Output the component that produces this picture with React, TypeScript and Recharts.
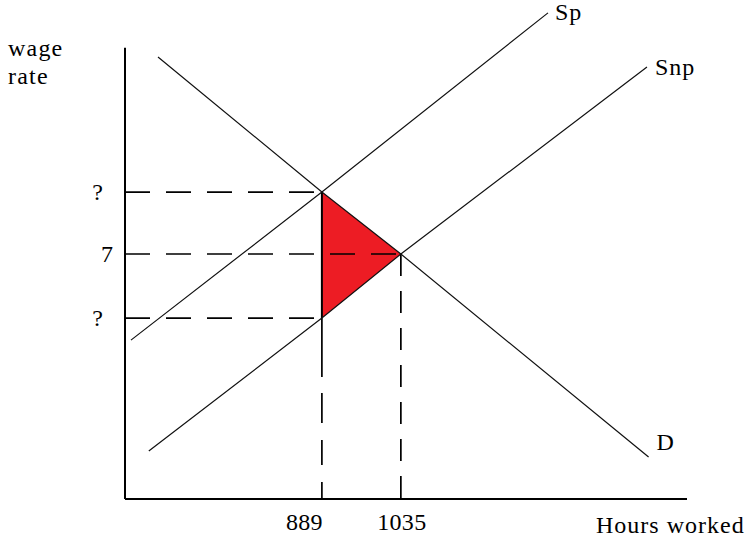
import React from 'react';
import { ComposedChart, Line, Area, XAxis, YAxis, ReferenceLine } from 'recharts';

// ---- data ----
const demandHours = [586, 889, 1035, 1493];
const demandWage = [12.63, 8.77, 7, 1.2];
const privateSupplyHours = [536, 889, 1307];
const privateSupplyWage = [4.54, 8.77, 13.89];
const nonPrivateSupplyHours = [569, 889, 1035, 1490];
const nonPrivateSupplyWage = [1.37, 5.17, 7, 12.34];

const curveNames = ['D', 'Sp', 'Snp'];

const triangleHours = [889, 1035];
const triangleLow = [5.17, 7];
const triangleHigh = [8.77, 7];

const xTicks = [889, 1035];
const xTickLabels = ['889', '1035'];
const yTicks = [5.17, 7, 8.77];
const yTickLabels = ['?', '7', '?'];
const guideHours = [889, 1035, 889]; // where each horizontal guide meets a curve

const xDomain = [525, 1564];
const yDomain = [0, 14];
const yAxisTop = 12.89;

const axisTitleY = ['wage', 'rate'];
const axisTitleX = 'Hours worked';

// ---- helpers ----
const FONT = "'Liberation Serif', 'Times New Roman', serif";
const toPoints = (xs: number[], ys: number[]) => xs.map((x, i) => ({ x, y: ys[i] }));

const demandData = toPoints(demandHours, demandWage);
const spData = toPoints(privateSupplyHours, privateSupplyWage);
const snpData = toPoints(nonPrivateSupplyHours, nonPrivateSupplyWage);
const triangleData = triangleHours.map((x, i) => ({ x, range: [triangleLow[i], triangleHigh[i]] }));

const endLabel = (text: string, count: number, dx: number, dy: number) => (props: any) => {
  if (props.index !== count - 1) return null;
  return (
    <text
      key={text}
      x={props.x + dx}
      y={props.y + dy}
      fontFamily={FONT}
      fontSize={24}
      letterSpacing={1}
      fill="#000"
      textAnchor="start"
    >
      {text}
    </text>
  );
};

const XTick = (props: any) => {
  const { x, y, payload } = props;
  const i = xTicks.indexOf(payload.value);
  return (
    <text
      x={x + 1}
      y={y}
      dy="0.71em"
      textAnchor={i === 0 ? 'end' : 'middle'}
      fontFamily={FONT}
      fontSize={24}
      letterSpacing={0.3}
      fill="#000"
    >
      {xTickLabels[i]}
    </text>
  );
};

const YTick = (props: any) => {
  const { x, y, payload } = props;
  const i = yTicks.indexOf(payload.value);
  return (
    <text
      x={yTickLabels[i] === '?' ? x - 10 : x}
      y={y}
      dy="0.35em"
      textAnchor="end"
      fontFamily={FONT}
      fontSize={24}
      fill="#000"
    >
      {yTickLabels[i]}
    </text>
  );
};

export default function App() {
  return (
    <div style={{ position: 'absolute', left: 0, top: 0, width: 747, height: 539, background: '#fff' }}>
      <ComposedChart
        width={747}
        height={539}
        margin={{ top: 9, right: 60, bottom: 0, left: 65 }}
      >
        <XAxis
          dataKey="x"
          type="number"
          domain={xDomain}
          ticks={xTicks}
          axisLine={{ stroke: '#000', strokeWidth: 2 }}
          tickLine={false}
          tickSize={0}
          tickMargin={14}
          height={40}
          tick={<XTick />}
          allowDataOverflow
        />
        <YAxis
          type="number"
          domain={yDomain}
          ticks={yTicks}
          axisLine={false}
          tickLine={false}
          tickSize={0}
          tickMargin={12}
          width={60}
          tick={<YTick />}
          allowDataOverflow={false}
        />
        <Area
          data={triangleData}
          dataKey="range"
          type="linear"
          stroke="none"
          fill="#ED1C24"
          fillOpacity={1}
          isAnimationActive={false}
        />
        {/* y axis line (shorter than plot area) */}
        <ReferenceLine
          segment={[{ x: xDomain[0], y: 0 }, { x: xDomain[0], y: yAxisTop }]}
          stroke="#000"
          strokeWidth={2}
        />
        {/* horizontal dashed guides */}
        {yTicks.map((v, i) => (
          <ReferenceLine
            key={'h' + i}
            segment={[{ x: xDomain[0], y: v }, { x: guideHours[i], y: v }]}
            stroke="#000"
            strokeWidth={1.7}
            strokeDasharray="25 16"
          />
        ))}
        {/* vertical dashed guides */}
        <ReferenceLine
          segment={[{ x: xTicks[0], y: triangleLow[0] }, { x: xTicks[0], y: 0 }]}
          stroke="#000"
          strokeWidth={1.7}
          strokeDasharray="59 16 30 17 25 17 20"
        />
        <ReferenceLine
          segment={[{ x: xTicks[1], y: triangleLow[1] }, { x: xTicks[1], y: 0 }]}
          stroke="#000"
          strokeWidth={1.7}
          strokeDasharray="22 15"
        />
        {/* triangle left edge */}
        <ReferenceLine
          segment={[{ x: triangleHours[0], y: triangleLow[0] }, { x: triangleHours[0], y: triangleHigh[0] }]}
          stroke="#000"
          strokeWidth={2}
        />
        <Line
          data={demandData}
          dataKey="y"
          type="linear"
          stroke="#111"
          strokeWidth={1.2}
          dot={false}
          isAnimationActive={false}
          label={endLabel(curveNames[0], demandData.length, 8, -7)}
        />
        <Line
          data={spData}
          dataKey="y"
          type="linear"
          stroke="#111"
          strokeWidth={1.2}
          dot={false}
          isAnimationActive={false}
          label={endLabel(curveNames[1], spData.length, 7, 7)}
        />
        <Line
          data={snpData}
          dataKey="y"
          type="linear"
          stroke="#111"
          strokeWidth={1.2}
          dot={false}
          isAnimationActive={false}
          label={endLabel(curveNames[2], snpData.length, 8, 8)}
        />
      </ComposedChart>
      <svg
        width={747}
        height={539}
        style={{ position: 'absolute', left: 0, top: 0, pointerEvents: 'none' }}
      >
        <text x={8} y={56} fontFamily={FONT} fontSize={24} letterSpacing={1.2} fill="#000">
          {axisTitleY[0]}
        </text>
        <text x={8} y={84} fontFamily={FONT} fontSize={24} letterSpacing={1.2} fill="#000">
          {axisTitleY[1]}
        </text>
        <text x={596} y={533} fontFamily={FONT} fontSize={24} letterSpacing={1} fill="#000">
          {axisTitleX}
        </text>
      </svg>
    </div>
  );
}
